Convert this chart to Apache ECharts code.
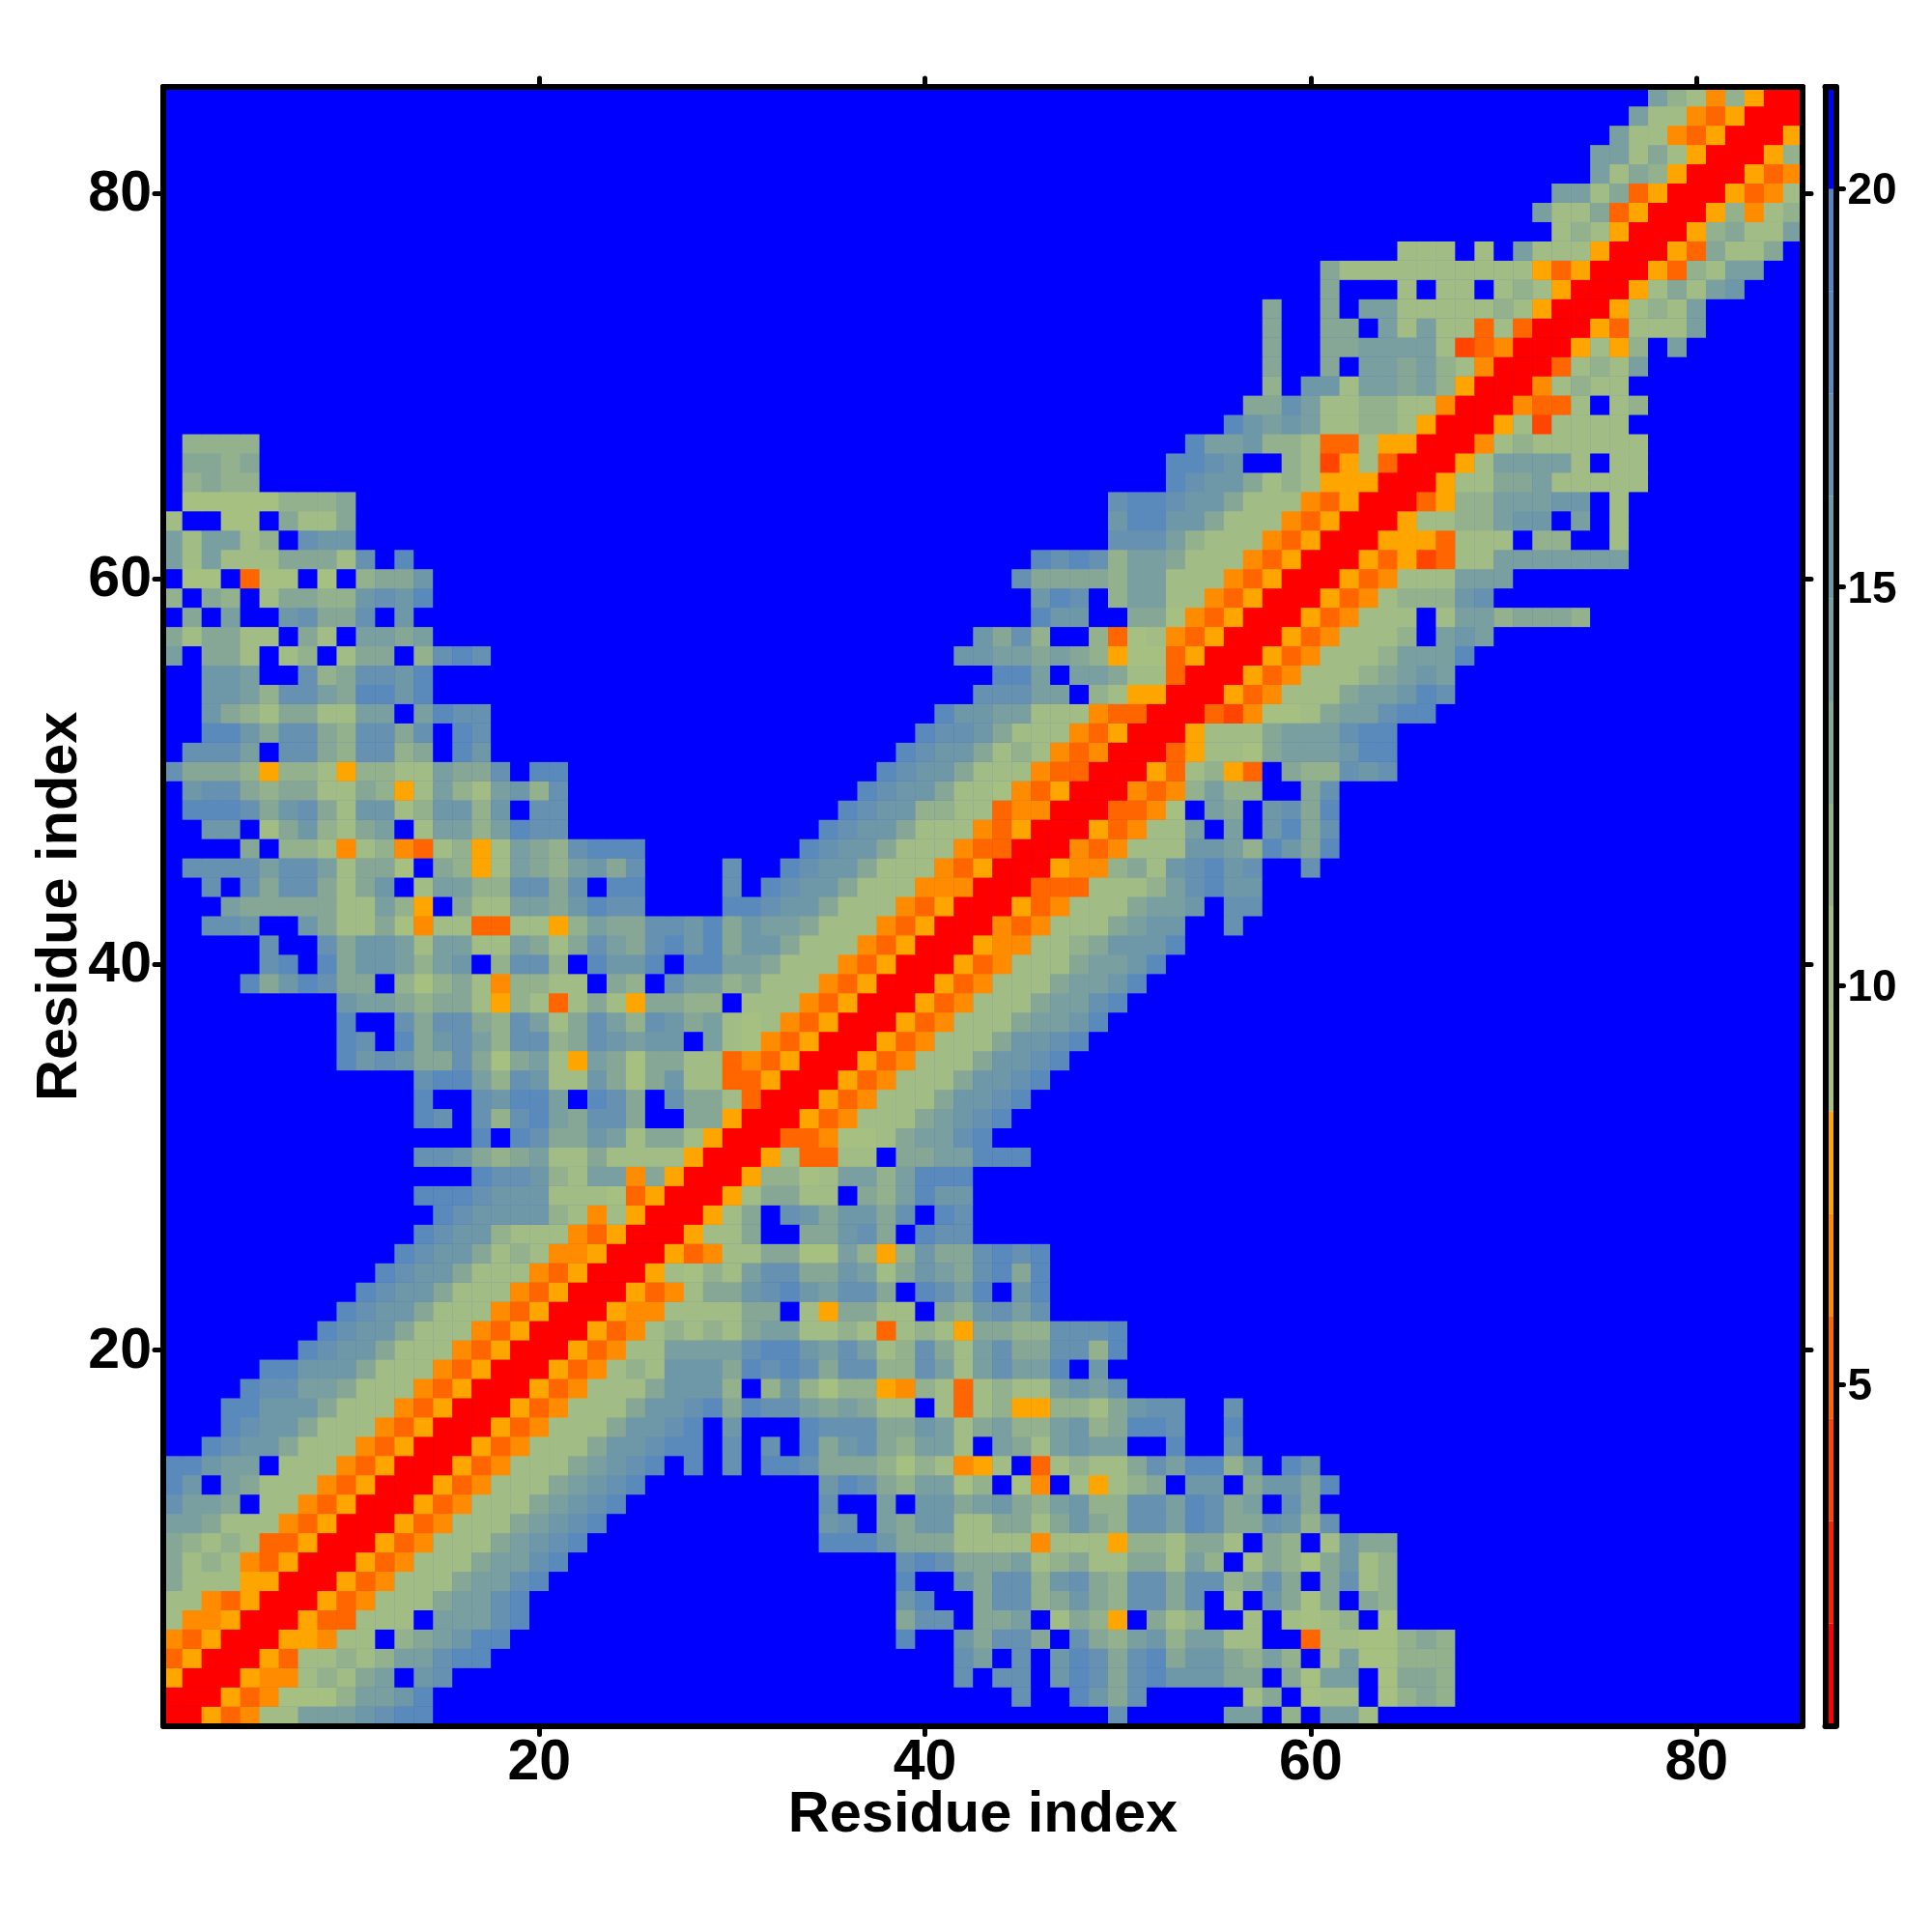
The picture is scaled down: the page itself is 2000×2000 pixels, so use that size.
<!DOCTYPE html>
<html>
<head>
<meta charset="utf-8">
<style>html,body{margin:0;padding:0;background:#fff}#chart{width:2000px;height:2000px}</style>
<script src="https://cdn.jsdelivr.net/npm/echarts@6/dist/echarts.min.js"></script>
</head>
<body>
<div id="chart"></div>
<script>
// Distance-map levels, one entry per residue row from 85 down to 1.
// Format "startColumn:levels": 1-9,a-f = colour level 1..15, "." = top level (blue).
// The map is symmetric: a cell not listed in its own row takes the value listed for its mirror cell.
const rowCells = [
"78:b9859611","77:b88546111","76:b885461116","75:bb8a8611169","75:b8a96111645",
"73:bb8a461116458","72:b88a4611169589","73:898611169a88b","65:888.8.b888611164a88a",
"61:a88888888886461116498bb","61:a...8.88.898611168a8bc","58:a..a.bb888889861116898b",
"58:a..aa.b8b8848411164888b","58:a..aabbbb83451116869.b","58:a..a.bbab9851114898b",
"58:9.cc8bbab9611158988","57:aadb88998851115448.89","56:ecbcb8899861116838888",
"2:9999 54:ebbc99844866111589888888","2:aa9a 53:eedc..98368411168bbbb8.88",
"2:9a99 53:edcca898666111688aab88888","2:77777999a 50:deedcca8885461114699bbbcc.8",
"1:8..77.a88a 50:ceecca88854611168899bcc.b.8","1:b8bb89.dcc 50:dddb98885461116664888.99..8",
"1:b8b888aaa8d.e 46:eded9bba8885461116463488bbbbbbb","2:77.477.7.9aac 45:daaaa9bb888546111645888bbb",
"1:9.a9.8aa99cdce 46:ced.9bb885461116458999cd","2:a.b..cdaad.c 46:ecc..aa7546111645888.8bb9aaa9",
"1:a8aa88.a8.bbab 43:cad9..94785461116458889.bcb","42:ccbbaba9677461116458889bbbe",
"44:eeb.bba8841116458889abcb","43:dddbb.9866111645888abbced","41:eccbb888544111435778abbdee",
"40:eddca8885461116888abbbdee","39:edcca89854511146887abbbcee","38:edcca888544111648964.a99dcd",
"37:edcca8875461115459b99..ad","36:edcc99884551114457.ba.cdae","35:edcca88854611164588b.b.cead",
"34:edcca888544111545888ccb9ecae","30:d..edcca8885461116559a8cdecd..d","30:d.edcca8885551114448889bdecc",
"30:eedcca888546111645888abbc.dd","29:eacbba888546111545888abcc..d","29:eacca888546111655889accce",
"29:ebba888546111645888abbce","29:b9a888546111645888abbce","29:9.888546111645888abbde",
"29:b878546111645888abbce","29:b87546111645888accde","29:84546111645888accde",
"29:8446111645888accde","29:a84111645888accde","29:a6111645888abcde","29:6111445778abbde",
"29:111684488.aabbeee","17:eddc98bb5a611169978bb9beee","14:eeedccc88874611168aa88.a9becc",
"15:edcccc9858611168a.dcaccad.ed","14:edcc9888546111688a..aacda.edd",
"13:edcca89855611164588aa77b969caadede","12:edcca88854611168798bddaacb8acbadeae",
"11:edcca8885461116458aacdecbdda.edbe.ce","10:edcca8885461116558888aa.86aa88.a9cdbd",
"9:edcca88854611164589898abb889848986aa99ddde","8:edcca88854611164588bbbbdeecbdb89da8bdaadd9e",
"6:eeccca888546111645898cccaededadd99db8bdbbe.c","5:eddbba888546111645888accc9.9c9799659848988bcbd",
"4:eeccca888546111645888accdeaeddbaba88.848966998acdd..d",
"4:edcca888546111645888accde.c...edddaacb8ab99bc9aeed..e",
"3:edcca888546111645888accdee.d.d.eacda9bb8.ba8bcbb..e..d",
"1:eecbb.888546111645888abcde.e.d.eedaaa9798568.48988adbee9c",
"1:ec.ba888546111645888abcde 35:ceda9bb79.75.8689a.cc.a",
"1:dbba.88546111645888abcde 35:d..b.ccabca9bc99ddbedab",
"1:bba888546111645888abcde 35:cd.bacc88aa8aca9ddbedaa",
"1:a9898446111645888abcde 35:eeecaaa888858886998aa8.",
"1:a898546111645888abbde 39:dedaaab89a88aa8b9.8",
"1:a88866111645888abbde 39:e..cadd9cda9ddadd9a",
"1:88546111645888abbde 39:ce..add9aca9ddad.8.",
"1:8556111644888.bbbde 39:add.aab.8a96.a89..8",
"1:54611166588.9abcee 39:e..cadda.da9bc9bb88",
"1:461116488989bbdee 42:db.d.cedadeacca9",
"1:6111655898ab.cd 42:d.dd.cedadecccaa",
"1:1116457779bbce 45:d..ecad.....8",
"1:1164588bbbcdee 50:d.....bb"
];
const residues = Array.from({length: 85}, (_, i) => String(i + 1));
const levelColors = ["#ff0000","#ff2200","#ff4500","#ff6600","#ff8c00","#ffa500",
  "#a6c082","#a2bc86","#93b18d","#86a796","#7a9fa0","#6e98a8","#6691b0","#5a89bb","#5585c0","#0000ff"];
const levelEdges = [0.715,2,3.285,4.57,5.855,7.14,8.425,9.71,10.995,12.28,13.565,14.85,16.135,17.42,18.705,19.99,21.27];
const residueTicks = ["20","40","60","80"];
const colorbarTicks = [5,10,15,20];

const levelChars = "123456789abcdef";
const grid = residues.map(() => new Array(85));
rowCells.forEach((text, i) => {
  const r = 84 - i;
  text.split(" ").forEach(seg => {
    const [start, str] = seg.split(":");
    [...str].forEach((ch, k) => {
      grid[r][Number(start) - 1 + k] = ch === "." ? 16 : levelChars.indexOf(ch) + 1;
    });
  });
});
const cells = [];
for (let r = 0; r < 85; r++) for (let c = 0; c < 85; c++) {
  const lv = grid[r][c] || grid[c][r] || 16;
  cells.push([c, r, (levelEdges[lv - 1] + levelEdges[lv]) / 2]);
}

const font = {fontFamily: "Liberation Sans", fontWeight: "bold", color: "#000"};
const frame = {show: true, onZero: false, lineStyle: {color: "#000", width: 6, cap: "round"}};
const isTick = (i, v) => residueTicks.includes(v);
const tickStyle = {show: true, inside: false, length: 9, alignWithLabel: true, interval: isTick,
  lineStyle: {color: "#000", width: 5, cap: "round"}};

const chart = echarts.init(document.getElementById("chart"));
chart.setOption({
  animation: false,
  backgroundColor: "#fff",
  grid: [
    {left: 169, top: 90, width: 1697, height: 1696.5, show: true, backgroundColor: "#0000ff", borderWidth: 0},
    {left: 1889.5, top: 90, width: 11, height: 1696.5}
  ],
  xAxis: [
    {type: "category", gridIndex: 0, data: residues, position: "bottom", z: 10,
     name: "Residue index", nameLocation: "middle", nameGap: 93.5, nameMoveOverlap: false,
     nameTextStyle: {...font, fontSize: 59.5, verticalAlign: "middle"},
     axisLine: frame, axisTick: tickStyle, splitLine: {show: false},
     axisLabel: {...font, fontSize: 59, margin: 10, interval: isTick, hideOverlap: false}},
    {type: "category", gridIndex: 0, data: residues, position: "top", z: 10,
     axisLine: frame, axisTick: tickStyle, axisLabel: {show: false}, splitLine: {show: false}},
    {type: "category", gridIndex: 1, data: [""], position: "bottom", z: 10,
     axisLine: frame, axisTick: {show: false}, axisLabel: {show: false}},
    {type: "category", gridIndex: 1, data: [""], position: "top", z: 10,
     axisLine: frame, axisTick: {show: false}, axisLabel: {show: false}}
  ],
  yAxis: [
    {type: "category", gridIndex: 0, data: residues, position: "left", z: 10,
     name: "Residue index", nameLocation: "middle", nameGap: 106, nameRotate: 90, nameMoveOverlap: false,
     nameTextStyle: {...font, fontSize: 59.5, verticalAlign: "middle"},
     axisLine: frame, axisTick: tickStyle, splitLine: {show: false},
     axisLabel: {margin: 12, interval: isTick, hideOverlap: false, formatter: v => `{a|${v}}`,
                 rich: {a: {...font, fontSize: 59, padding: [4, 0, 0, 0]}}}},
    {type: "category", gridIndex: 0, data: residues, position: "right", z: 10,
     axisLine: frame, axisTick: tickStyle, axisLabel: {show: false}, splitLine: {show: false}},
    {type: "value", gridIndex: 1, position: "right", min: levelEdges[0], max: levelEdges[16], z: 10,
     axisLine: frame, splitLine: {show: false},
     axisTick: {show: true, length: 8, customValues: colorbarTicks, lineStyle: {color: "#000", width: 5, cap: "round"}},
     axisLabel: {margin: 12, customValues: colorbarTicks, hideOverlap: false, formatter: v => `{a|${v}}`,
                 rich: {a: {...font, fontSize: 46, padding: [7, 0, 0, 0]}}}},
    {type: "value", gridIndex: 1, position: "left", min: levelEdges[0], max: levelEdges[16], z: 10,
     axisLine: frame, axisTick: {show: false}, axisLabel: {show: false}, splitLine: {show: false}}
  ],
  visualMap: {
    show: false, type: "piecewise", seriesIndex: 0, dimension: 2,
    pieces: levelColors.map((color, i) => ({min: levelEdges[i], max: levelEdges[i + 1], color}))
  },
  series: [
    {type: "heatmap", xAxisIndex: 0, yAxisIndex: 0, data: cells, progressive: 0,
     itemStyle: {borderWidth: 0}, emphasis: {disabled: true}},
    ...levelColors.map((color, i) => ({
      type: "bar", xAxisIndex: 2, yAxisIndex: 2, stack: "bar", barWidth: "100%",
      itemStyle: {color},
      data: [i === 0 ? levelEdges[1] : levelEdges[i + 1] - levelEdges[i]]
    }))
  ]
});
</script>
</body>
</html>
